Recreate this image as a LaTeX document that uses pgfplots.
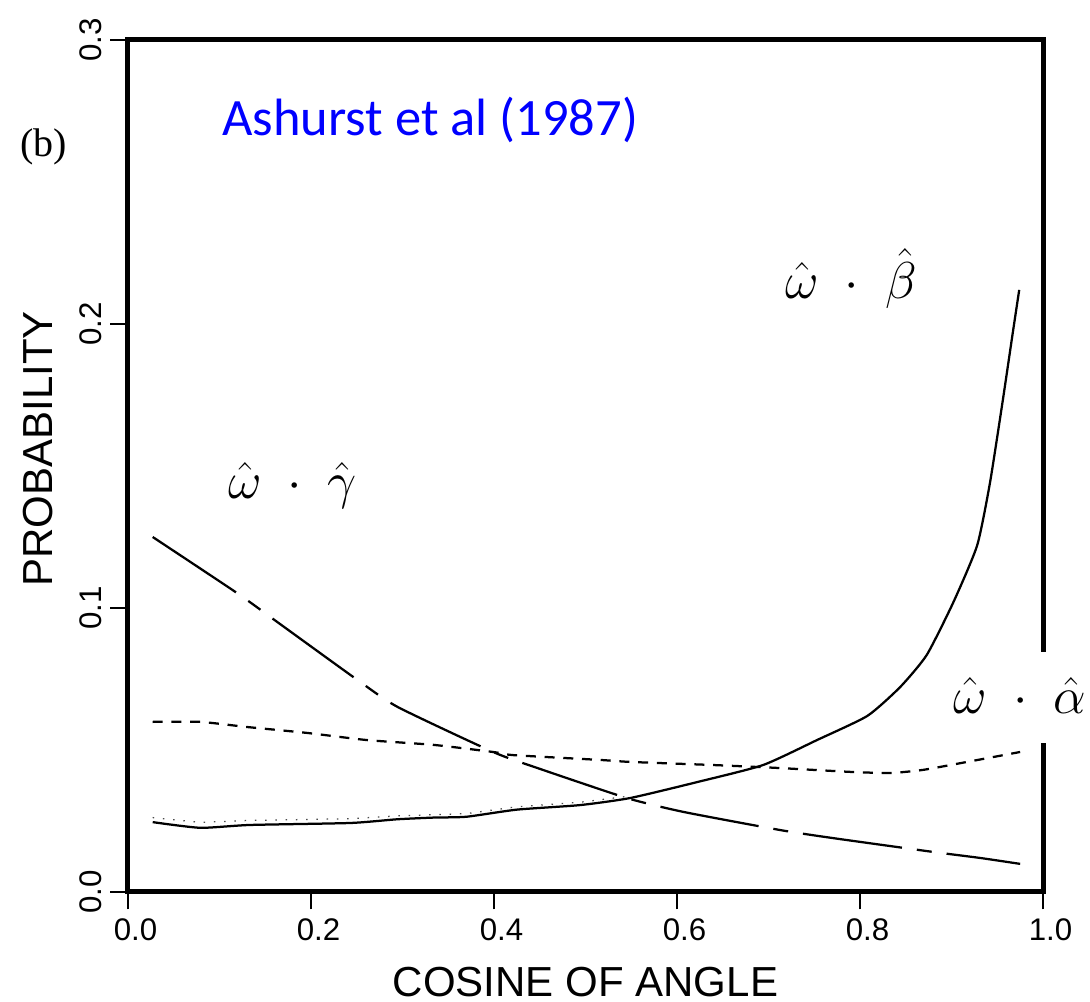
\documentclass[border=0pt]{standalone}
\usepackage{pgfplots}
\pgfplotsset{compat=1.18}
\usepackage{pgfplotstable}
\usepackage{fontspec}
\setmainfont{Liberation Sans}
\newfontfamily\serifb{Liberation Serif}
\newfontfamily\calib{Carlito}

\pgfplotstableread{
x y
0.027 0.0246
0.079 0.0226
0.133 0.0236
0.243 0.0243
0.294 0.0256
0.334 0.0262
0.370 0.0265
0.425 0.0290
0.494 0.0306
0.549 0.0331
0.622 0.0387
0.694 0.0447
0.753 0.0535
0.808 0.0620
0.844 0.0722
0.873 0.0835
0.902 0.1020
0.928 0.1220
0.942 0.1440
0.956 0.1730
0.967 0.1970
0.974 0.2120
}\betadata

\pgfplotstableread{
x y
0.027 0.0262
0.079 0.0245
0.133 0.0252
0.243 0.0258
0.294 0.0268
0.370 0.0276
0.425 0.0300
0.494 0.0316
0.549 0.0338
}\betadots

\pgfplotstableread{
x y
0.027 0.1250
0.119 0.1053
0.163 0.0951
0.251 0.0746
0.295 0.0651
0.399 0.0493
0.447 0.0437
0.545 0.0331
0.607 0.0282
0.713 0.0218
0.770 0.0190
0.880 0.0141
0.931 0.0120
0.975 0.0099
}\gammadata

\pgfplotstableread{
x y
0.027 0.0599
0.079 0.0599
0.130 0.0581
0.196 0.0560
0.261 0.0535
0.334 0.0518
0.399 0.0493
0.421 0.0482
0.516 0.0465
0.549 0.0458
0.640 0.0447
0.709 0.0437
0.789 0.0423
0.833 0.0419
0.869 0.0430
0.917 0.0458
0.975 0.0493
}\alphadata

\begin{document}
\begin{tikzpicture}
\begin{axis}[
  scale only axis, width=366pt, height=340.8pt,
  xmin=0, xmax=1, ymin=0, ymax=0.3,
  clip=false,
  axis line style={line width=2pt},
  xtick pos=left, ytick pos=left,
  tick align=outside,
  major tick length=7pt,
  tick style={line width=1pt, black},
  xtick={0,0.2,0.4,0.6,0.8,1.0},
  ytick={0,0.1,0.2,0.3},
  xticklabels={0.0,0.2,0.4,0.6,0.8,1.0},
  yticklabels={0.0,0.1,0.2,0.3},
  ticklabel style={font=\fontsize{12.5}{14}\selectfont},
  xticklabel style={xshift=3pt},
  yticklabel style={rotate=90, anchor=south},
  xlabel={COSINE OF ANGLE},
  ylabel={PROBABILITY},
  label style={font=\fontsize{16.8}{19}\selectfont},
  xlabel style={at={(axis description cs:0.5,0)}, anchor=base, yshift=-42pt},
  ylabel style={at={(axis description cs:-0.098,0.52)}, anchor=center},
]
\addplot[black, line width=0.9pt, smooth, tension=0.35] table {\betadata};
\addplot[black!70, line width=0.5pt, dash pattern=on 0.6pt off 3.5pt] table {\betadots};
\addplot[black, line width=0.9pt, smooth, tension=0.35, dash pattern=on 40pt off 6pt on 6pt off 6pt] table {\gammadata};
\addplot[black, line width=0.9pt, smooth, tension=0.35, dash pattern=on 4pt off 3.5pt] table {\alphadata};

\node[anchor=base west, inner sep=0pt, font=\fontsize{20}{24}\selectfont] at (axis cs:0.109,0.1387) {$\hat{\omega}\;\cdot\;\hat{\gamma}$};
\node[anchor=base west, inner sep=0pt, font=\fontsize{20}{24}\selectfont] at (axis cs:0.718,0.209) {$\hat{\omega}\;\cdot\;\hat{\beta}$};
\node[anchor=base west, inner sep=0pt, font=\calib\fontsize{21}{25}\selectfont, text={rgb,255:red,0;green,0;blue,255}] at (axis cs:0.1027,0.2662) {Ashurst et al (1987)};
\node[inner sep=0pt, font=\serifb\fontsize{16}{18}\selectfont] at (axis cs:-0.092,0.2623) {(b)};

\coordinate (SW) at (rel axis cs:0,0);
\coordinate (NE) at (rel axis cs:1,1);
\coordinate (g1) at (axis cs:1,0.0525);
\coordinate (g2) at (axis cs:1,0.0845);
\coordinate (alab) at (axis cs:0.902,0.063);
\end{axis}
\fill[white] ([xshift=-3pt]g1) rectangle ([xshift=3pt]g2);
\node[anchor=base west, inner sep=0pt, font=\fontsize{20}{24}\selectfont] at (alab) {$\hat{\omega}\;\cdot\;\hat{\alpha}$};
\pgfresetboundingbox
\path[use as bounding box] ([shift={(-51.2pt,-44pt)}]SW) rectangle ([shift={(18.8pt,16pt)}]NE);
\end{tikzpicture}
\end{document}
